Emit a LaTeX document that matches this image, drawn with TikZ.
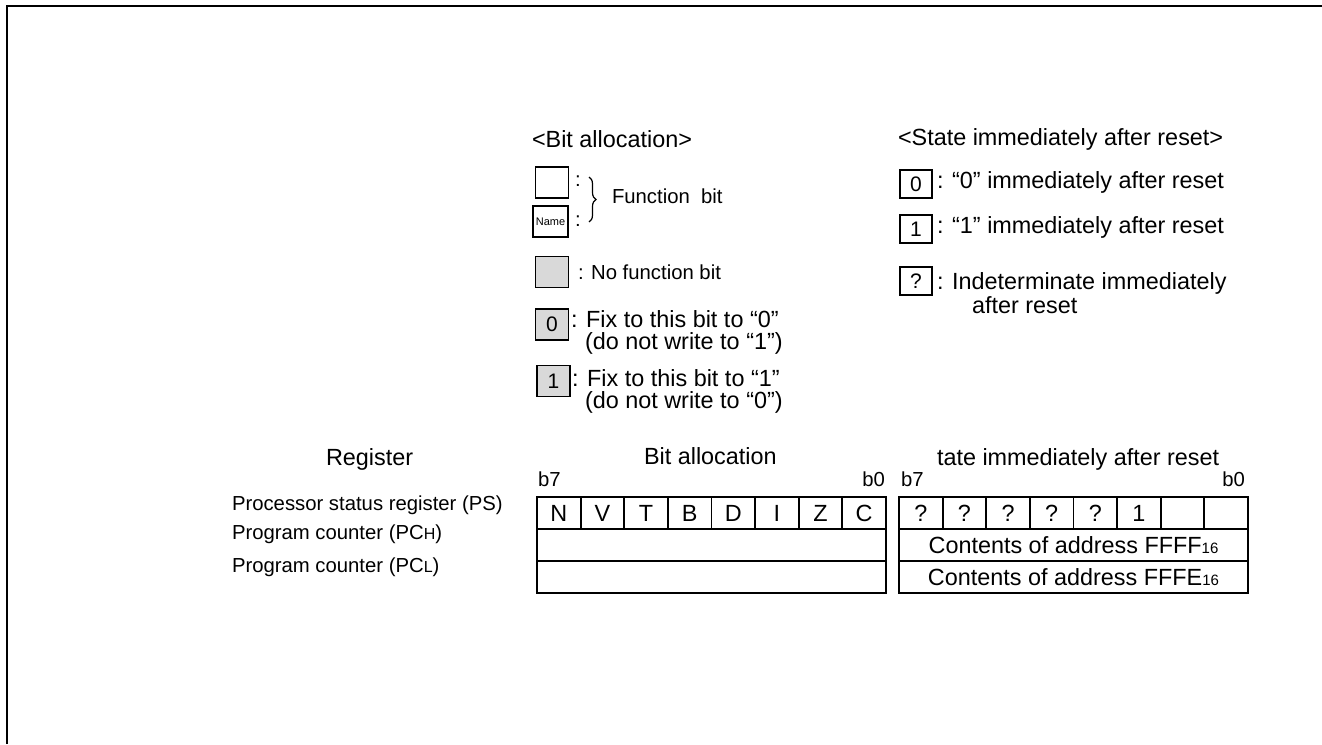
\documentclass[tikz,border=0pt]{standalone}
\usepackage{fontspec}
\setmainfont{Liberation Sans}
\usetikzlibrary{decorations.pathreplacing}
\definecolor{nofn}{RGB}{217,217,217}
\tikzset{
  big/.style={font=\fontsize{23.4}{26}\selectfont},
  small/.style={font=\fontsize{20.3}{23}\selectfont},
  txt/.style={inner sep=0pt, outer sep=0pt, anchor=base west},
  txte/.style={inner sep=0pt, outer sep=0pt, anchor=base east},
  lbox/.style={draw, line width=1.3pt, minimum width=33pt, minimum height=31pt, inner sep=0pt, font=\fontsize{21}{21}\selectfont},
  gbox/.style={lbox, fill=nofn},
  cell/.style={draw, line width=1.8pt, minimum width=43.625pt, minimum height=32pt, inner sep=0pt, big},
  wide/.style={draw, line width=1.8pt, minimum width=349pt, minimum height=32pt, inner sep=0pt, big},
}
\newcommand{\sixteen}{{\fontsize{15}{15}\selectfont 16}}
\begin{document}
\begin{tikzpicture}[x=1pt, y=-1pt]
\useasboundingbox (0,0) rectangle (1322,744);
% frame
\draw[line width=2.5pt] (7,744) -- (7,6) -- (1322,6);

% ---- legend: bit allocation
\node[txt, big] (hba) at (532,147) {<Bit allocation>};
\node[lbox] (fb1) at (552,182.5) {};
\node[txt, small] (col1) at (575,186) {:};
\node[lbox, minimum width=35pt, font=\fontsize{11}{11}\selectfont] (fb2) at (550.5,221.5) {Name};
\node[txt, small] (col2) at (575,226) {:};
\coordinate (brt) at (589,177);
\coordinate (brb) at (589,222);
\draw[line width=1.2pt, decorate, decoration={brace, amplitude=7pt}] (brt) -- (brb);
\node[txt, small] (fbt) at (612,203) {Function~~bit};

\node[gbox] (nf) at (552,272) {};
\node[txt, small] (nft) at (578,279) {: No function bit};

\node[gbox] (f0) at (552,324.5) {0};
\node[txt, big] (f0t) at (571,327) {: Fix to this bit to “0”};
\node[txt, big] (f0u) at (585,349) {(do not write to “1”)};

\node[gbox] (f1) at (553.5,381) {1};
\node[txt, big] (f1t) at (572,386) {: Fix to this bit to “1”};
\node[txt, big] (f1u) at (585,408) {(do not write to “0”)};

% ---- legend: state after reset
\node[txt, big] (hst) at (898,145) {<State immediately after reset>};
\node[lbox, minimum width=32pt, minimum height=28pt] (s0) at (916,184) {0};
\node[txt, big] (s0t) at (937,188) {: “0” immediately after reset};
\node[lbox, minimum width=32pt, minimum height=28pt] (s1) at (916,229) {1};
\node[txt, big] (s1t) at (937,233) {: “1” immediately after reset};
\node[lbox, minimum width=32pt, minimum height=28pt] (sq) at (916,281) {?};
\node[txt, big] (sqt) at (937,289) {: Indeterminate immediately};
\node[txt, big] (squ) at (972,313) {after reset};

% ---- register table headings
\node[txt, big] (hreg) at (326,465) {Register};
\node[txt, big] (hbit) at (644,464) {Bit allocation};
\node[txt, big] (hsta) at (937,465) {tate immediately after reset};
\node[txt, small] (lb7) at (538,486) {b7};
\node[txte, small] (lb0) at (885,486) {b0};
\node[txt, small] (rb7) at (901,486) {b7};
\node[txte, small] (rb0) at (1245,486) {b0};

\node[txt, small] (ps) at (232,510) {Processor status register (PS)};
\node[txt, small] (pch) at (232,539) {Program counter (PC{\fontsize{16}{16}\selectfont H})};
\node[txt, small] (pcl) at (232,572) {Program counter (PC{\fontsize{16}{16}\selectfont L})};

% ---- left table
\foreach \t [count=\i] in {N,V,T,B,D,I,Z,C} {
  \node[cell] (lc\i) at ({537+43.625*(\i-0.5)},513) {\t};
}
\node[wide] (lh) at (711.5,545) {};
\node[wide] (ll) at (711.5,577) {};

% ---- right table
\foreach \t [count=\i] in {?,?,?,?,?,1,{},{}} {
  \node[cell] (rc\i) at ({899+43.625*(\i-0.5)},513) {\t};
}
\node[wide] (rh) at (1073.5,545) {Contents of address FFFF\sixteen};
\node[wide] (rl) at (1073.5,577) {Contents of address FFFE\sixteen};
\end{tikzpicture}
\end{document}
